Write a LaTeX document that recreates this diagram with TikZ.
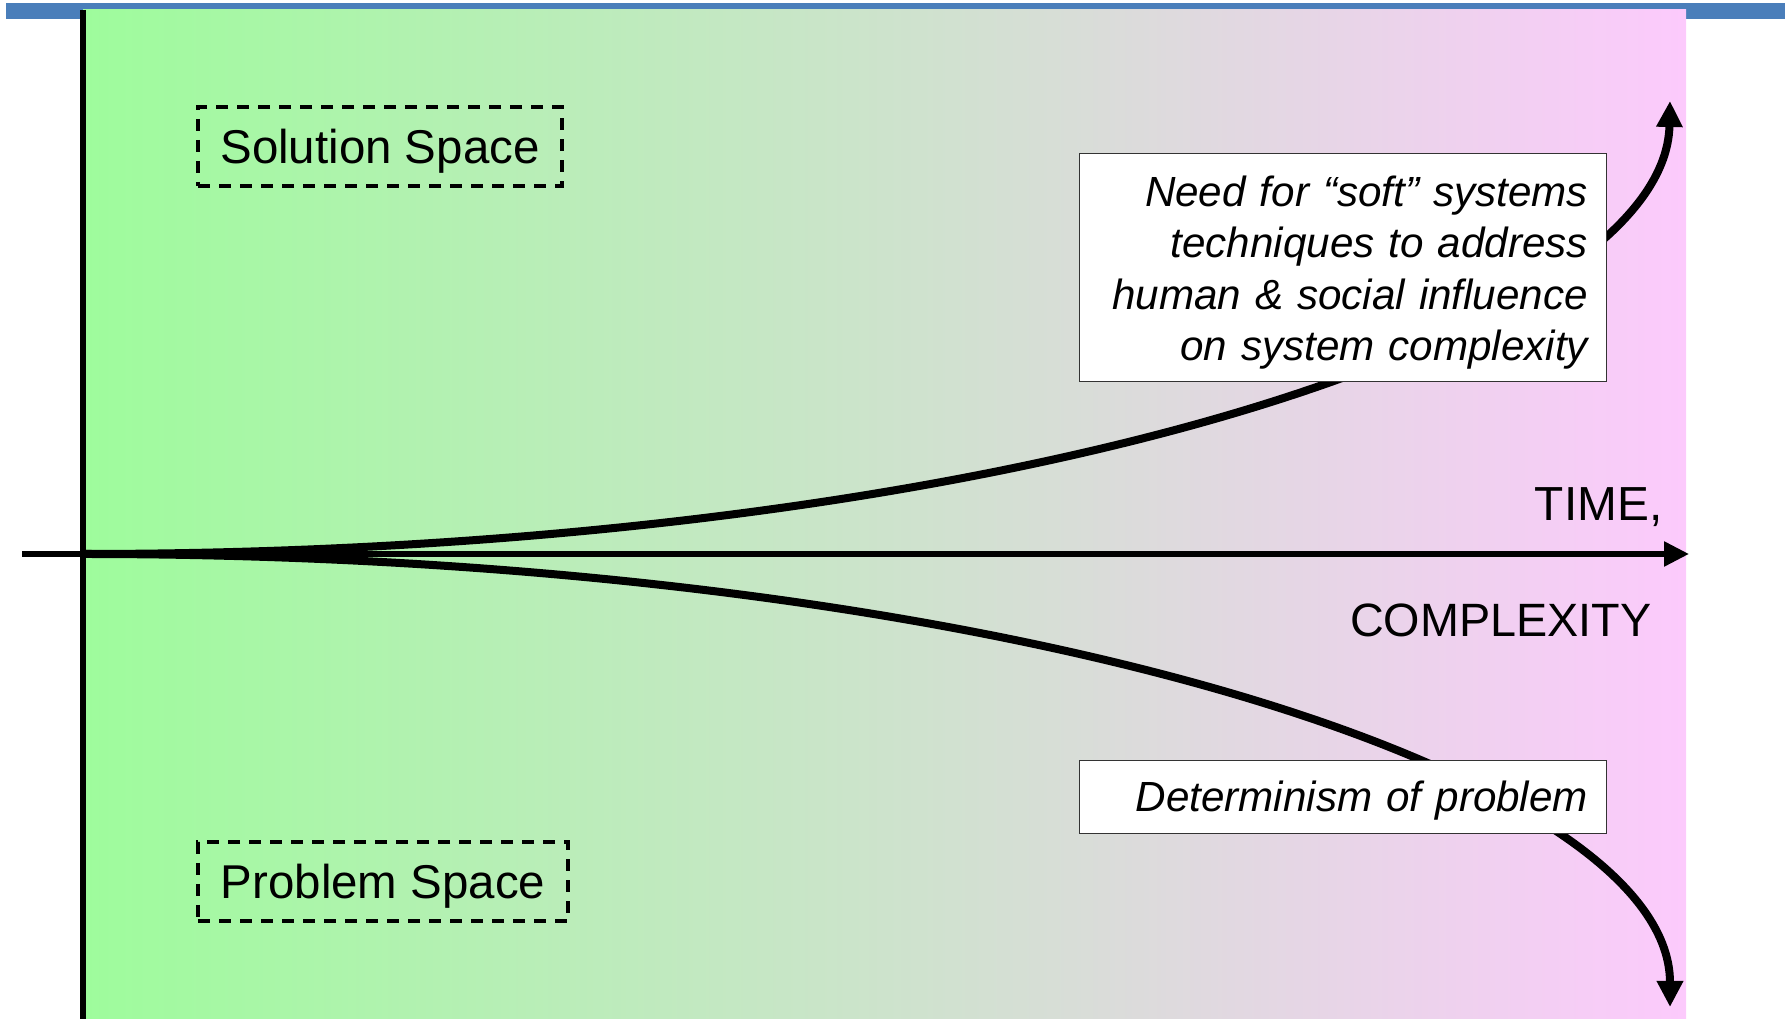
\documentclass[tikz,border=0pt]{standalone}
\usepackage{fontspec}
\setmainfont{Liberation Sans}
\usepackage{tikz}
\usetikzlibrary{arrows.meta, positioning}
\definecolor{topbar}{RGB}{74, 126, 186}
\definecolor{leftgreen}{RGB}{158, 252, 156}
\definecolor{rightpink}{RGB}{252, 202, 252}
\tikzset{
    spacebox/.style={draw, dashed, line width=0.35mm, dash pattern=on 1.2mm off 0.9mm,
        minimum height=7.9mm, inner xsep=0pt, text depth=0pt, font=\fontsize{13.5}{16}\selectfont},
    notebox/.style={draw=black!80, fill=white, line width=0.25pt, text width=49.1mm,
        inner xsep=1.8mm, align=right, font=\fontsize{12}{14.6}\selectfont\itshape},
    trend/.style={line width=0.8mm, -{Triangle[length=2.6mm, width=2.5mm]}}
}

\begin{document}
\begin{tikzpicture}[x=0.1mm, y=-0.1mm]
        \useasboundingbox (0,0) rectangle (1785,1019);
        % header bar and background
        \fill[topbar] (6,3) rectangle (1785,19);
        \shade[left color=leftgreen, right color=rightpink] (83,10) rectangle (1686,1019);

        % axes
        \coordinate (origin) at (83,554);
        \coordinate (axisstart) at (22,554);
        \coordinate (axisend) at (1689,554);
        \coordinate (ytop) at (83,10);
        \coordinate (ybottom) at (83,1019);
        \coordinate (uptip) at (1670,101);
        \coordinate (downtip) at (1670,1007);
        \draw[line width=0.55mm] (ytop) -- (ybottom);
        \draw[line width=0.55mm, -{Triangle[length=2.5mm, width=2.4mm]}] (axisstart) -- (axisend);

        % diverging trends
        \draw[trend] (origin) .. controls (1000,554) and (1665,334) .. (uptip);
        \draw[trend] (origin) .. controls (1000,554) and (1670,774) .. (downtip);

        % labels
        \node[spacebox, minimum width=36.4mm] (solution) at (380,146.5) {Solution Space};
        \node[spacebox, minimum width=37mm] (problem) at (383,881.5) {Problem Space};
        \node[notebox, minimum height=22.4mm, text height=11.9pt, text depth=46.3pt] (soft) at (1342.5,267)
            {Need for “soft” systems\\techniques to address\\human \& social influence\\on system complexity};
        \node[notebox, minimum height=7.3mm, text depth=0pt] (determinism) at (1342.5,796.5) {Determinism of problem};
        \node[anchor=base east, inner sep=0pt, font=\fontsize{13.6}{16}\selectfont] (time) at (1663,521) {TIME,};
        \node[anchor=base east, inner sep=0pt, font=\fontsize{13.3}{16}\selectfont] (complexity) at (1652,637) {COMPLEXITY};
    \end{tikzpicture}
\end{document}
